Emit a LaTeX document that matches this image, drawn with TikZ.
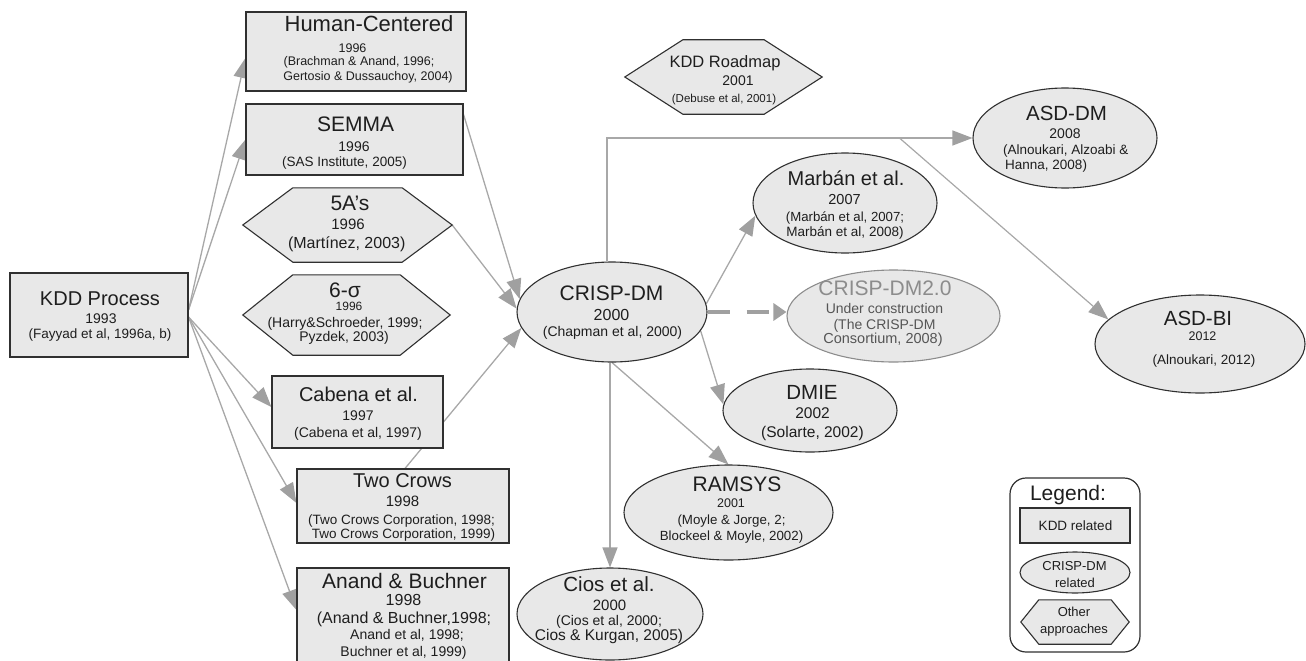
\documentclass[tikz,border=0pt]{standalone}
\usepackage{fontspec}
\setmainfont{Liberation Sans}
\usetikzlibrary{arrows.meta,shapes.geometric,calc,backgrounds}

\definecolor{boxfill}{HTML}{E8E8E8}
\definecolor{edgeclr}{HTML}{303030}
\definecolor{connclr}{HTML}{A8A8A8}
\definecolor{tipclr}{HTML}{A0A0A0}
\definecolor{ink}{HTML}{1E1E1E}
\definecolor{faded}{HTML}{8C8C8C}
\definecolor{fadedink}{HTML}{555555}

\tikzset{
  kddbox/.style={rectangle, draw=edgeclr, fill=boxfill, line width=1.1pt, inner sep=0pt},
  crispell/.style={ellipse, draw=edgeclr, fill=boxfill, line width=1.1pt, inner sep=0pt},
  hexbox/.style={rectangle, inner sep=0pt},
  hexline/.style={draw=edgeclr, fill=boxfill, line width=1.1pt, line join=miter},
  legendframe/.style={rectangle, draw=edgeclr, fill=white, line width=1.2pt, rounded corners=16pt, inner sep=0pt},
  flow/.style={draw=connclr, line width=1.3pt, -{Triangle[length=20pt,width=15pt,color=tipclr]}},
  thinflow/.style={draw=connclr, line width=1.2pt, -{Triangle[length=20pt,width=15pt,color=tipclr]}},
  dashflow/.style={draw=tipclr, line width=4.8pt, dash pattern=on 22pt off 17pt, -{Triangle[length=13pt,width=17pt,color=tipclr]}},
}

% one line of text, placed on its baseline
\newcommand{\tline}[6][ink]{\node[anchor=base, inner sep=0pt, text=#1, font=\fontsize{#5}{#5}\selectfont] (#2) at (#3,#4) {#6};}
% stretched hexagon around an empty frame node; #2 is the length of the pointed ends
\newcommand{\hexframe}[2]{\draw[hexline] (#1.west) -- ($(#1.north west)+(#2,0)$) -- ($(#1.north east)+(-#2,0)$) -- (#1.east) -- ($(#1.south east)+(-#2,0)$) -- ($(#1.south west)+(#2,0)$) -- cycle;}

\begin{document}
\begin{tikzpicture}[x=1pt,y=-1pt]
\useasboundingbox (0,0) rectangle (1306,661);
\clip (0,0) rectangle (1306,661);

% ---------- frames ----------
\node[kddbox, minimum width=178pt, minimum height=84pt] (kdd) at (99,315) {};
\node[kddbox, minimum width=220pt, minimum height=79pt] (hc) at (356,51.5) {};
\node[kddbox, minimum width=217pt, minimum height=71pt] (semma) at (354.5,139.5) {};
\node[hexbox, minimum width=209pt, minimum height=74pt] (fivea) at (347.5,225) {};
\node[hexbox, minimum width=207pt, minimum height=80pt] (sixs) at (346.5,315) {};
\node[kddbox, minimum width=171pt, minimum height=72pt] (cabena) at (357.5,412) {};
\node[kddbox, minimum width=212pt, minimum height=74pt] (twocrows) at (403,506) {};
\node[kddbox, minimum width=212pt, minimum height=104pt] (anand) at (403,620) {};

\node[crispell, minimum width=190pt, minimum height=100pt] (crisp) at (612,312) {};
\node[hexbox, minimum width=197pt, minimum height=74pt] (roadmap) at (723.5,77) {};
\node[crispell, minimum width=184pt, minimum height=100pt] (asddm) at (1065,138) {};
\node[crispell, minimum width=210pt, minimum height=98pt] (asdbi) at (1200,344) {};
\node[crispell, minimum width=184pt, minimum height=100pt] (marban) at (845,203) {};
\node[crispell, draw=faded, minimum width=213pt, minimum height=92pt] (crisp2) at (893.5,316) {};
\node[crispell, minimum width=174pt, minimum height=83pt] (dmie) at (810,410.5) {};
\node[crispell, minimum width=209pt, minimum height=95pt] (ramsys) at (728.5,512.5) {};
\node[crispell, minimum width=186pt, minimum height=92pt] (cios) at (610,614) {};

\hexframe{fivea}{50}
\hexframe{sixs}{50}
\hexframe{roadmap}{58}

% legend
\node[legendframe, minimum width=130pt, minimum height=174pt] (legend) at (1075,565) {};
\node[kddbox, minimum width=110pt, minimum height=35pt] (lgkdd) at (1075,525.5) {};
\node[crispell, minimum width=110pt, minimum height=41pt] (lgcrisp) at (1075,572.5) {};
\node[hexbox, minimum width=108pt, minimum height=44pt] (lgother) at (1075,622) {};
\hexframe{lgother}{18}

% ---------- connectors (behind the frames) ----------
\begin{scope}[on background layer]
  \draw[flow] ($(kdd.east)+(0,-5)$) -- ($(hc.west)+(0,6.5)$);
  \draw[flow] ($(kdd.east)+(0,-5)$) -- (semma.west);
  \draw[flow] ($(kdd.east)+(0,2)$) -- ($(cabena.west)+(0,-5)$);
  \draw[flow] ($(kdd.east)+(0,2)$) -- ($(twocrows.west)+(0,-3)$);
  \draw[flow] ($(kdd.east)+(0,2)$) -- ($(anand.west)+(0,-10)$);

  \draw[flow] ($(semma.east)+(0,-25)$) -- (crisp.172);
  \draw[flow] (fivea.east) -- (crisp.178);
  \draw[flow] ($(twocrows.north)+(2,0)$) -- (crisp.190);

  \draw[thinflow] ($(crisp.north)+(-5,0)$) |- (asddm.west);
  \path (asddm.west) ++(-73,0) coordinate (branch);
  \draw[thinflow] (branch) -- (asdbi.165);
  \draw[flow] (crisp.5) -- (marban.188);
  \draw[dashflow] (crisp.east) -- (crisp.east -| crisp2.west);
  \draw[flow] (crisp.-12) -- (dmie.176);
  \draw[flow] (crisp.south) -- (ramsys.north);
  \draw[flow] (crisp.south -| cios.north) -- (cios.north);
\end{scope}

% ---------- texts ----------
\tline{kddA}{100}{305}{20}{KDD Process}
\tline{kddB}{101}{323}{14}{1993}
\tline{kddC}{100}{338.5}{13.5}{(Fayyad et al, 1996a, b)}

\tline{hcA}{369}{31.5}{22}{Human-Centered}
\tline{hcB}{352.5}{52.5}{12.5}{1996}
\tline{hcC}{359}{66}{12.5}{(Brachman \& Anand, 1996;}
\tline{hcD}{368}{80.5}{12.5}{Gertosio \& Dussauchoy, 2004)}

\tline{smA}{355.5}{131}{21}{SEMMA}
\tline{smB}{354}{151.5}{14}{1996}
\tline{smC}{344.5}{166}{13.5}{(SAS Institute, 2005)}

\tline{faA}{350}{210}{21}{5A’s}
\tline{faB}{348}{229.5}{15}{1996}
\tline{faC}{346.7}{248}{16}{(Martínez, 2003)}

\tline{sgA}{345}{297}{21}{6-σ}
\tline{sgB}{349}{310.5}{12}{1996}
\tline{sgC}{345}{327}{14}{(Harry\&Schroeder, 1999;}
\tline{sgD}{344}{341}{14}{Pyzdek, 2003)}

\tline{cbA}{358.5}{401.5}{20}{Cabena et al.}
\tline{cbB}{358}{420}{14}{1997}
\tline{cbC}{358}{437.5}{14}{(Cabena et al, 1997)}

\tline{tcA}{402.5}{487}{20}{Two Crows}
\tline{tcB}{402.5}{506.5}{15}{1998}
\tline{tcC}{401.5}{524.5}{13.5}{(Two Crows Corporation, 1998;}
\tline{tcD}{403.5}{538}{13.5}{Two Crows Corporation, 1999)}

\tline{abA}{404.5}{588}{21}{Anand \& Buchner}
\tline{abB}{403.5}{605}{16}{1998}
\tline{abC}{404}{623}{16}{(Anand \& Buchner,1998;}
\tline{abD}{407}{639}{14}{Anand et al, 1998;}
\tline{abE}{403.5}{656}{14}{Buchner et al, 1999)}

\tline{crA}{611.5}{300}{21}{CRISP-DM}
\tline{crB}{611.5}{320}{16}{2000}
\tline{crC}{612.5}{336}{14}{(Chapman et al, 2000)}

\tline{krA}{725}{67}{16.5}{KDD Roadmap}
\tline{krB}{738}{85}{14}{2001}
\tline{krC}{724}{102.5}{11.5}{(Debuse et al, 2001)}

\tline{adA}{1066.5}{120.5}{20.5}{ASD-DM}
\tline{adB}{1065}{138}{14}{2008}
\node[anchor=base west, inner sep=0pt, text=ink, font=\fontsize{13.5}{13.5}\selectfont] (adC) at (1003,154) {(Alnoukari, Alzoabi \&};
\node[anchor=base west, inner sep=0pt, text=ink, font=\fontsize{13.5}{13.5}\selectfont] (adD) at (1005,169.5) {Hanna, 2008)};

\tline{biA}{1198}{325}{20.5}{ASD-BI}
\tline{biB}{1202.5}{340}{12.5}{2012}
\tline{biC}{1204}{364.5}{13.5}{(Alnoukari, 2012)}

\tline{mbA}{846}{185}{20}{Marbán et al.}
\tline{mbB}{844.5}{204}{14.5}{2007}
\tline{mbC}{845}{221}{13.2}{(Marbán et al, 2007;}
\tline{mbD}{845}{236}{13.5}{Marbán et al, 2008)}

\tline[faded]{ctA}{885}{295}{21}{CRISP-DM2.0}
\tline[fadedink]{ctB}{884.5}{313}{14}{Under construction}
\tline[fadedink]{ctC}{884.5}{329}{14}{(The CRISP-DM}
\tline[fadedink]{ctD}{883}{343}{14.5}{Consortium, 2008)}

\tline{dmA}{812}{399}{20.5}{DMIE}
\tline{dmB}{812.5}{418}{15.5}{2002}
\tline{dmC}{812.5}{437}{15.5}{(Solarte, 2002)}

\tline{rmA}{737}{491}{21}{RAMSYS}
\tline{rmB}{731}{507}{12.5}{2001}
\tline{rmC}{731.5}{524}{13.3}{(Moyle \& Jorge, 2;}
\tline{rmD}{731.5}{540.5}{13.3}{Blockeel \& Moyle, 2002)}

\tline{ciA}{609}{591.5}{20.5}{Cios et al.}
\tline{ciB}{609.5}{610}{15}{2000}
\tline{ciC}{609}{625}{14}{(Cios et al, 2000;}
\tline{ciD}{609}{640.5}{15.5}{Cios \& Kurgan, 2005)}

\tline{lgA}{1068}{500}{21}{Legend:}
\tline{lgB}{1075.5}{530.5}{13.5}{KDD related}
\tline{lgC}{1074.5}{570.5}{13}{CRISP-DM}
\tline{lgD}{1075}{587}{13}{related}
\tline{lgE}{1074}{616.5}{13}{Other}
\tline{lgF}{1074}{633}{13}{approaches}
\end{tikzpicture}
\end{document}
